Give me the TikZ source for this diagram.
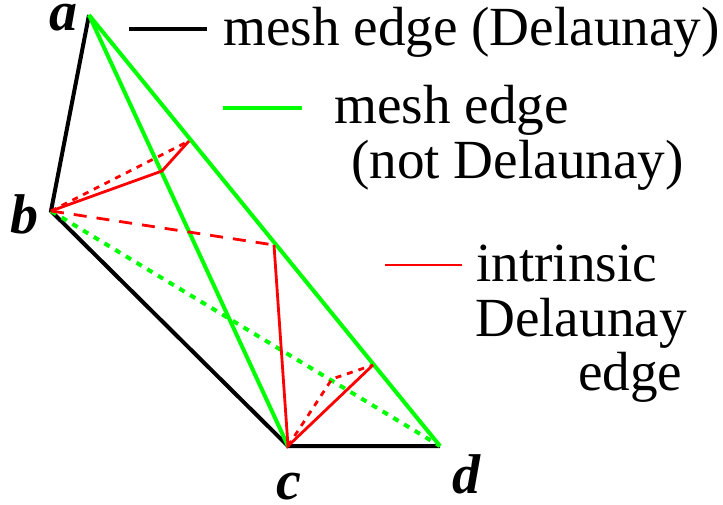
\documentclass[tikz,border=0pt]{standalone}
\usepackage{fontspec}
\setmainfont{Liberation Serif}
\begin{document}
\begin{tikzpicture}[
    x=1pt, y=-1pt,
    delaunay/.style={draw=black, line width=4pt},
    flipped/.style={draw=green, line width=4pt},
    flippeddot/.style={draw=green, line width=4pt, dash pattern=on 6pt off 6.5pt},
    intrinsic/.style={draw=red, line width=2.8pt},
    intrinsicdash/.style={draw=red, line width=2.8pt, dash pattern=on 13pt off 10pt},
    intrinsicdot/.style={draw=red, line width=2.8pt, dash pattern=on 6pt off 6pt},
    legend/.style={anchor=base west, inner sep=0pt, font=\fontsize{55.2}{55.2}\selectfont},
    vertex/.style={anchor=base, inner sep=0pt, font=\fontsize{56}{56}\selectfont\bfseries\itshape}
]
    \useasboundingbox (0,0) rectangle (723,504);

    \coordinate (a) at (89,15);
    \coordinate (b) at (51,211);
    \coordinate (c) at (288,446);
    \coordinate (d) at (440,446);
    \coordinate (ad1) at (189,141);
    \coordinate (ac1) at (162,171);
    \coordinate (ad2) at (274,245);
    \coordinate (ad3) at (373,365);
    \coordinate (mid) at (332,379);

    % triangles
    \draw [delaunay] (a) -- (b) -- (c) -- (d);
    \draw [flippeddot] (b) -- (d);
    \draw [flipped] (a) -- (c);
    \draw [flipped] (a) -- (d);

    % intrinsic edges
    \draw [intrinsic] (b) -- (ac1) -- (ad1);
    \draw [intrinsicdot] (b) -- (ad1);
    \draw [intrinsicdash] (b) -- (ad2);
    \draw [intrinsic] (ad2) -- (c) -- (ad3);
    \draw [intrinsicdot] (c) -- (mid) -- (ad3);

    \node [vertex] (la) at (63,30) {a};
    \node [vertex] (lb) at (24,233) {b};
    \node [vertex] (lc) at (289,499) {c};
    \node [vertex] (ld) at (466,493) {d};

    % legend
    \coordinate (k1a) at (129,29);
    \coordinate (k1b) at (207,29);
    \coordinate (k2a) at (223,108);
    \coordinate (k2b) at (302,108);
    \coordinate (k3a) at (385,265);
    \coordinate (k3b) at (462,265);
    \draw [delaunay] (k1a) -- (k1b);
    \draw [flipped] (k2a) -- (k2b);
    \draw [intrinsic] (k3a) -- (k3b);

    \node [legend] (t1) at (223,45) {mesh edge (Delaunay)};
    \node [legend] (t2) at (334,123) {mesh edge};
    \node [legend] (t3) at (351,178) {(not Delaunay)};
    \node [legend] (t4) at (476,281) {intrinsic};
    \node [legend] (t5) at (475,336) {Delaunay};
    \node [legend] (t6) at (578,390) {edge};
\end{tikzpicture}
\end{document}
